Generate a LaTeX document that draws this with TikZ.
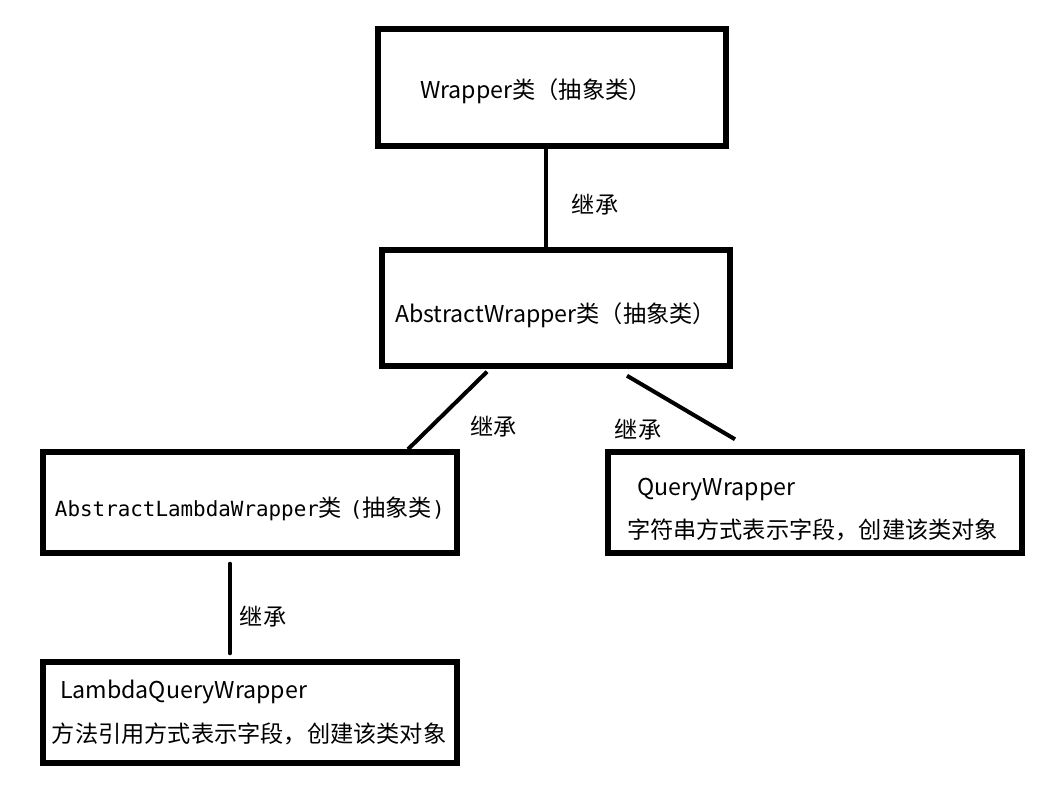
\documentclass[tikz,border=0pt]{standalone}
\usepackage{fontspec}
\setmainfont{Noto Sans CJK SC}
\newfontfamily\codefont[Scale=0.9]{DejaVu Sans Mono}
\usetikzlibrary{positioning}
% lower a box text by half of #1
\newcommand{\lowertext}[2]{\raisebox{0pt}[\dimexpr\height+#1\relax]{#2}}

\begin{document}
\begin{tikzpicture}[classbox/.style={draw, rectangle, line width=3.1pt, inner xsep=0pt, inner ysep=0pt, align=left,
			minimum height=2.02cm, text width=8.28cm, font=\fontsize{13.2pt}{24.5pt}\selectfont},
			inherit/.style={line width=2.3pt},
			relname/.style={font=\fontsize{13.2pt}{16pt}\selectfont, inner sep=0pt}]
			\fill[white] (0,0) rectangle (20.86,15.7);
			\useasboundingbox (0,0) rectangle (20.86,15.7);
			
			\node[classbox, text width=6.96cm, minimum height=2.34cm](wrapper) at (11.04, 13.95) {\lowertext{0.16cm}{\hspace*{0.84cm}Wrapper类（抽象类）}};
			
			\node[classbox, text width=6.96cm, minimum height=2.32cm](abstract) at (11.12, 9.54) {\lowertext{0.28cm}{\hspace*{0.26cm}AbstractWrapper类（抽象类）}};
			\draw[inherit] ([xshift=-0.12cm]wrapper.south) -- ([xshift=-0.2cm]abstract.north);
			\node[relname](inherit1) at (11.9, 11.6) {继承};
			
			\node[classbox](lambda) at (5.0, 5.65) {\lowertext{0.24cm}{\hspace*{0.24cm}{\codefont AbstractLambdaWrapper}类{\codefont\ (}抽象类{\codefont )}}};
			\draw[inherit] ([xshift=-1.38cm,yshift=-0.06cm]abstract.south) -- ([xshift=3.16cm]lambda.north);
			\node[relname](inherit2) at (9.87, 7.16) {继承};
			
			\node[classbox](query) at (16.3, 5.65) {\lowertext{0.28cm}{\hspace*{0.58cm}QueryWrapper}\\\hspace*{0.38cm}字符串方式表示字段，创建该类对象};
			\draw[inherit] ([xshift=1.42cm,yshift=-0.14cm]abstract.south) -- ([xshift=-1.6cm,yshift=0.2cm]query.north);
			\node[relname](inherit3) at (12.76, 7.1) {继承};
			
			\node[classbox](lquery) at (5.0, 1.45) {\hspace*{0.34cm}LambdaQueryWrapper\\\hspace*{0.18cm}方法引用方式表示字段，创建该类对象};
			\draw[inherit, line cap=round] ([xshift=-0.4cm,yshift=-0.16cm]lambda.south) -- ([xshift=-0.4cm,yshift=0.12cm]lquery.north);
			\node[relname](inherit4) at (5.26, 3.36) {继承};
		\end{tikzpicture}
\end{document}
